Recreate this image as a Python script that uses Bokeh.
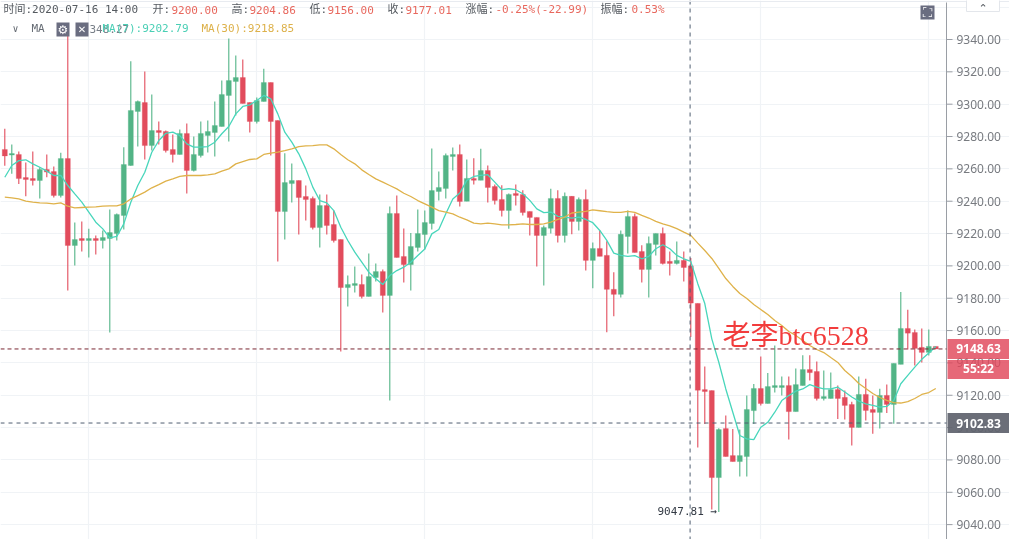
from bokeh.embed import file_html
from bokeh.resources import INLINE
from bokeh.plotting import figure
from bokeh.models import (Range1d, FixedTicker, LinearAxis, Grid, Span, Label, BoxAnnotation,
                          NumeralTickFormatter, ColumnDataSource)

opens = [9272,9268.5,9268.9,9254.6,9254,9252.8,9259.6,9258.3,9243.5,9266.4,
 9212.6,9216.9,9215.7,9216.9,9215.7,9216.9,9220,9231.2,9262.1,9295.5,
 9301,9274.4,9283.7,9283.1,9272,9268.9,9281.9,9259,9268.3,9280.6,
 9282.5,9286.2,9305.4,9314,9316.5,9301,9289.3,9301.7,9313.4,9289.9,
 9233.6,9250.9,9252.8,9242.9,9241.7,9223.7,9237.3,9225.6,9216.3,9186.6,
 9187.9,9188.5,9181.1,9192.8,9196.5,9181.7,9232.4,9205.8,9200.8,9211.4,
 9219.4,9226.2,9246,9247.8,9267.6,9268.9,9239.9,9254.1,9252.9,9259,
 9249.1,9241.1,9234.3,9244.8,9244.2,9233.7,9230,9218.8,9223.2,9241.7,
 9218.8,9243,9227.5,9241.1,9203.4,9210.8,9206.5,9185.5,9182.4,9218.2,
 9230.6,9208.9,9197.8,9213.3,9220.1,9202.8,9201.5,9203.4,9200,9176.8,
 9123.5,9122.9,9069.1,9099.4,9082.7,9079,9082.1,9110.5,9124.2,9114.9,
 9124.8,9124.8,9126,9109.9,9126,9135.9,9134.7,9118,9118,9123.5,
 9118.7,9114.3,9100.1,9120.5,9111.2,9109.4,9119.9,9114.3,9139.1,9161.3,
 9158.8,9149.6,9146.5,9150.2]
highs = [9284.8,9275,9270.7,9264,9270.7,9261,9268.9,9261.4,9270,9343.5,
 9226.8,9227.4,9223,9218.8,9221.9,9234.9,9232.4,9273.4,9326.6,9302.3,
 9320.2,9306,9289.3,9283.7,9281.2,9284.3,9288,9280,9289.3,9289.9,
 9301.7,9314.6,9340.6,9330.1,9327.6,9301,9304.1,9321.9,9313.4,9289.9,
 9269.7,9263.3,9252.8,9249.7,9242.9,9244.1,9244.1,9234.2,9216.3,9194,
 9199.6,9194.7,9207.6,9201.5,9197.8,9236.7,9243.5,9223.1,9220.4,9234.9,
 9234.2,9272.6,9258.3,9269.5,9273.2,9275,9265.8,9266.5,9272.4,9262.1,
 9250.4,9249.8,9244.8,9250.4,9246.7,9233.7,9230,9225,9247.7,9246.7,
 9245.4,9243,9242.3,9247.3,9214.5,9221.9,9215.3,9196,9221.9,9234.3,
 9232.4,9212.7,9218.2,9220.1,9223.8,9208.9,9215.1,9208.9,9204.86,9176.8,
 9137.8,9122.9,9099.6,9107.5,9099.2,9098.8,9119.8,9127,9143.9,9133.8,
 9150.7,9131.6,9131.6,9136.5,9144.8,9144.8,9140.9,9135.3,9134,9126,
 9123,9116,9131.6,9130.2,9119.9,9124,9126.7,9139.7,9183.8,9172.9,
 9160.7,9161.3,9160.7,9150.2]
lows = [9262,9257,9250.7,9243.1,9249.7,9241.7,9254.8,9242.3,9242.3,9184.8,
 9200.2,9208.9,9205.2,9207,9210.7,9158.8,9215.7,9222.5,9262,9273.8,
 9265.8,9271.4,9275.1,9270.1,9263.9,9268.9,9244.7,9258.3,9267,9270.1,
 9267.6,9286.2,9276.9,9293,9300.4,9282.5,9288,9301.7,9268.3,9202.7,
 9216.3,9239.2,9219.4,9228.1,9222.5,9211.4,9219.4,9214.5,9147,9174.9,
 9183.5,9179.8,9181.1,9190.3,9171.2,9116.8,9205.2,9189.7,9184.8,9208.9,
 9210.1,9222.5,9240.4,9241.7,9259,9236.7,9239.9,9250.4,9252.9,9239.2,
 9238,9230.6,9223,9237.4,9231.2,9218.8,9199.7,9187.9,9220.1,9214.5,
 9214.5,9219.5,9221.9,9197.2,9186.1,9205.9,9158.9,9168.8,9180.5,9207.7,
 9208.3,9189.8,9180.5,9206.5,9200.9,9194.1,9200.9,9190.4,9156,9087.7,
 9102.3,9049.3,9047.81,9082.1,9079,9069.7,9069.7,9102.3,9113.6,9114.9,
 9121.7,9119.8,9092.6,9109.9,9126,9129.1,9116.7,9116.7,9118,9105.3,
 9105,9089,9100.1,9104.4,9096.2,9099.5,9109,9102.4,9139.1,9148.3,
 9138.4,9140.3,9144.6,9148.63]
closes = [9268,9269.5,9254,9253.4,9252.8,9259.6,9258,9243.5,9266.4,9212.6,
 9216.3,9215.7,9216.9,9215.7,9217.5,9220.6,9231.8,9262.7,9296.1,9301.6,
 9274.4,9283.7,9282.5,9271.4,9268.9,9281.9,9259,9268.9,9281.9,9283.1,
 9286.8,9306,9314.6,9316.5,9300.4,9289.3,9302.3,9313.4,9289.3,9233.6,
 9251.5,9252.8,9242.3,9241,9223.7,9237.3,9225,9215.7,9186.6,9188.5,
 9189.1,9181.1,9193.4,9196.5,9181.7,9232.4,9205.2,9200.8,9212,9220,
 9226.8,9246.6,9248.5,9268.2,9268.9,9239.8,9254.1,9252.9,9259,9248.5,
 9240.5,9234.3,9244.2,9243.6,9233,9230,9218.8,9223.8,9241.7,9218.8,
 9243,9227.5,9241.1,9203.4,9210.8,9205.9,9185.5,9182.4,9219.5,9230.6,
 9208.3,9197.8,9213.9,9220.1,9201.5,9201.5,9203.4,9199,9177.01,9123.1,
 9122.3,9069.1,9098.8,9082.1,9079,9082.7,9111.2,9124.2,9114.9,9125.4,
 9126,9126,9109.9,9126.6,9135.9,9134,9118,9119.2,9123.5,9118,
 9113.7,9100.1,9120.5,9110.6,9109.4,9119.9,9114.3,9139.7,9161.3,9158.4,
 9149,9146.5,9150.2,9148.63]
ma7 = [9254.8,9262.1,9265.1,9265.6,9263.1,9261,9258.6,9255.9,9255.9,9249.7,
 9244.5,9239.4,9233.2,9227,9222.9,9217.3,9218.2,9226,9239.4,9249.7,
 9257.9,9270.3,9277.5,9282,9282.7,9280.6,9275.5,9273.4,9273.4,9273.8,
 9276.5,9281.7,9286.2,9294,9298.6,9299.6,9302.3,9305.4,9303.3,9294,
 9282.7,9276.5,9269.3,9260,9248.7,9240.4,9239,9234.2,9223.9,9215.7,
 9208.5,9202.3,9196.1,9192,9188.5,9194,9197.1,9199.2,9202.3,9206.4,
 9210.5,9219.8,9222.5,9232.2,9241.4,9245,9252.9,9255.3,9256,9256.4,
 9251.8,9247.1,9247.7,9247.1,9244.6,9240.5,9235.3,9232.9,9233.3,9230.6,
 9230.2,9229.6,9230.2,9228.7,9226.7,9221.9,9215.8,9207.9,9206.5,9205.9,
 9206.3,9204.4,9205.9,9210.6,9213.1,9210.6,9206.5,9204.4,9202.79,9189,
 9176.7,9154.9,9140.4,9123.9,9109.5,9095.1,9093,9092.6,9100.2,9103.3,
 9109.5,9116.7,9119.8,9122.5,9123.9,9126.6,9125,9123.9,9123.9,9125,
 9122,9118.9,9116.4,9114.7,9113.7,9112.7,9113.1,9116.8,9127.1,9132.3,
 9137.4,9142.2,9146.1,9150.2]
ma30 = [9242.5,9242.1,9241.4,9240,9239.4,9239,9238.8,9238.4,9239,9236.9,
 9235.9,9236.1,9236.3,9236.5,9236.9,9237.1,9237.1,9238.4,9241.4,9243.5,
 9245.6,9248.3,9250.3,9252.4,9253.8,9255.3,9255.9,9255.9,9255.9,9256.3,
 9256.9,9258.6,9260,9263.1,9264.5,9265.8,9266.2,9268.9,9269.7,9270.3,
 9271.3,9272.4,9273.8,9274.2,9274.4,9274.8,9274.8,9272.4,9268.9,9265.6,
 9263.1,9259.4,9256.5,9253.8,9251.8,9249.7,9247.6,9244.9,9242.9,9240.4,
 9238.4,9236.3,9234.2,9233.2,9232.2,9230.1,9228.5,9226.5,9226,9226.5,
 9226,9225.4,9225.4,9225.6,9226,9225.6,9225.6,9226,9227.1,9228.7,
 9230.2,9232.7,9233.3,9233.7,9234.7,9234.1,9233.5,9233.1,9233.1,9233.7,
 9233.1,9231.2,9229.6,9227.5,9226,9224.8,9223,9220.9,9218.85,9214.1,
 9209.5,9204.6,9198.4,9192.2,9187.3,9182.9,9179.8,9176.1,9173,9169.9,
 9166.2,9163.1,9159.4,9157,9153.9,9150.8,9148.3,9146.4,9143.3,9140.3,
 9135.3,9131.6,9127.3,9124.2,9121.1,9118.6,9116.8,9115.5,9115.2,9116.1,
 9118,9120.5,9121.7,9124.2]

axis_ticks = [9040,9060,9080,9100,9120,9140,9160,9180,9200,9220,9240,9260,9280,9300,9320,9340]
grid_y = axis_ticks + [9360]
grid_x = [12,36,60,84,108,132]
cursor_index = 98
last_price = 9148.63
cursor_price = 9102.83
low_price = 9047.81
countdown = "55:22"
watermark = "老李btc6528"
header = [("时间:2020-07-16 14:00", 3, "g"), ("开:", 152, "g"), ("9200.00", 171, "r"), ("高:", 231, "g"),
          ("9204.86", 249, "r"), ("低:", 309, "g"), ("9156.00", 327, "r"), ("收:", 387, "g"),
          ("9177.01", 405, "r"), ("涨幅:", 465, "g"), ("-0.25%(-22.99)", 495, "r"), ("振幅:", 600, "g"),
          ("0.53%", 631, "r")]
ma_legend = [("348.27", 89, "#777e87"), ("MA(7):9202.79", 102, "#4ACFB5"), ("MA(30):9218.85", 201, "#DDB14A")]

RED, GREEN = "#E24C5C", "#52B486"
MONO = "'DejaVu Sans Mono','Noto Sans CJK SC',monospace"
idx = list(range(len(opens)))
colors = [GREEN if c >= o else RED for o, c in zip(opens, closes)]
src = ColumnDataSource(dict(i=idx, o=opens, h=highs, l=lows, c=closes, col=colors))

ypx = lambda y: 9340 - (y - 39) * 0.6184   # pixel row -> price, used to seat page furniture
X0, XAXIS, XEND = -0.614, 134.53, 143.53   # index at left edge, at the price axis, at right edge

p = figure(width=1009, height=539, output_backend="svg", toolbar_location=None,
           x_range=Range1d(X0, XEND), y_range=Range1d(ypx(539), ypx(0)),
           x_axis_location=None, y_axis_location=None,
           min_border_left=0, min_border_top=0, min_border_bottom=0, min_border_right=0,
           outline_line_color=None)
p.styles = {"position": "fixed", "left": "0", "top": "0"}
p.grid.visible = False

p.add_layout(Grid(dimension=0, ticker=FixedTicker(ticks=grid_x), grid_line_color="#F0F3F6", grid_line_width=1.2, level="underlay"))
p.add_layout(Grid(dimension=1, ticker=FixedTicker(ticks=grid_y), grid_line_color="#F0F3F6", grid_line_width=1.2, level="underlay",
                  bounds=(X0, XAXIS)))

# price axis: rule, ticks and tick labels placed through the figure's scales
p.line([XAXIS, XAXIS], [ypx(2), ypx(539)], line_color="#9A9EA5", line_width=1)
p.segment(x0=[XAXIS] * len(axis_ticks), y0=axis_ticks, x1=[XAXIS + 0.86] * len(axis_ticks), y1=axis_ticks,
          line_color="#9A9EA5", line_width=1)
for t in axis_ticks:
    p.add_layout(Label(x=956, y=t, x_units="screen", y_units="data", text=f"{t:.2f}", text_color="#787B80",
                       text_font="Noto Sans", text_font_size="12px", text_baseline="middle", text_align="left"))

p.segment("i", "h", "i", "l", source=src, color="col", line_width=1.1)
p.vbar(x="i", top="o", bottom="c", width=0.72, source=src, fill_color="col", line_color="col", line_width=0.3)
p.line(idx, ma7, line_color="#48D6BB", line_width=1.3)
p.line(idx, ma30, line_color="#DFB24A", line_width=1.3)

p.add_layout(Span(location=cursor_index - 0.1, dimension="height", line_color="#4F5E70", line_dash=[4, 4], line_width=1))
p.line([X0, XAXIS], [cursor_price, cursor_price], line_color="#4F5E70", line_dash=[4, 4], line_width=1)
p.line([X0, XAXIS], [last_price, last_price], line_color="#7A2733", line_dash=[4, 3], line_width=1)
p.add_layout(Span(location=ypx(1), dimension="width", line_color="#E8EBF0", line_width=1))

def txt(s, x, y, color, font=MONO, size="11px", style="normal", align="left"):
    p.add_layout(Label(x=x, y=ypx(y), x_units="screen", y_units="data", text=s, text_color=color, text_font=font,
                       text_font_size=size, text_font_style=style, text_align=align, text_baseline="middle"))

def box(l, r, ytop, ybot, color, alpha=1.0, line=None):
    p.add_layout(BoxAnnotation(left=l, right=r, left_units="screen", right_units="screen",
                               top=ypx(ytop), bottom=ypx(ybot), fill_color=color, fill_alpha=alpha,
                               line_color=line, line_alpha=1.0 if line else 0))

for s, x, k in header:
    txt(s, x, 9, "#555A60" if k == "g" else "#E8685E")

txt("∨", 12, 28, "#666C74", size="10px")
txt("MA", 31, 28, "#666C74")
box(56, 69, 22, 36, "#6A6D80")
box(75, 88, 22, 36, "#6A6D80")
for s, x, c in ma_legend:
    txt(s, x, 28, c)
txt("⚙", 62.5, 29, "#FFFFFF", font="DejaVu Sans", size="12px", align="center")
txt("✕", 81.5, 29, "#FFFFFF", font="DejaVu Sans", size="10px", align="center")

box(920, 934, 5, 19, "#6A6D80")
txt("⛶", 927, 12, "#FFFFFF", font="DejaVu Sans", size="13px", align="center")

box(966, 999, -2, 11, "#FFFFFF", line="#E3E6EB")
txt("⌃", 982.5, 8, "#555A60", font="DejaVu Sans", size="11px", align="center")

txt(watermark, 722, 335, "#F23C3C", font="'Liberation Serif','Noto Sans CJK SC',serif", size="28px")
txt(f"{low_price:.2f} →", 657, 511, "#333A44")

# price tags sitting on the axis
y_last = (9340 - last_price) / 0.6184 + 39
y_cur = (9340 - cursor_price) / 0.6184 + 39
box(947, 1009, y_last - 10, y_last + 10, "#E0475A", alpha=0.82)
box(947, 1009, y_last + 11, y_last + 30, "#E0475A", alpha=0.82)
box(947, 1009, y_cur - 10, y_cur + 10, "#60636E", alpha=0.93)
txt(f"{last_price:.2f}", 978, y_last, "#FFFFFF", font="Noto Sans", size="12px", style="bold", align="center")
txt(countdown, 978, y_last + 20, "#FFFFFF", font="Noto Sans", size="12px", style="bold", align="center")
txt(f"{cursor_price:.2f}", 978, y_cur, "#FFFFFF", font="Noto Sans", size="12px", style="bold", align="center")

open("out.html", "w").write(file_html(p, INLINE))
